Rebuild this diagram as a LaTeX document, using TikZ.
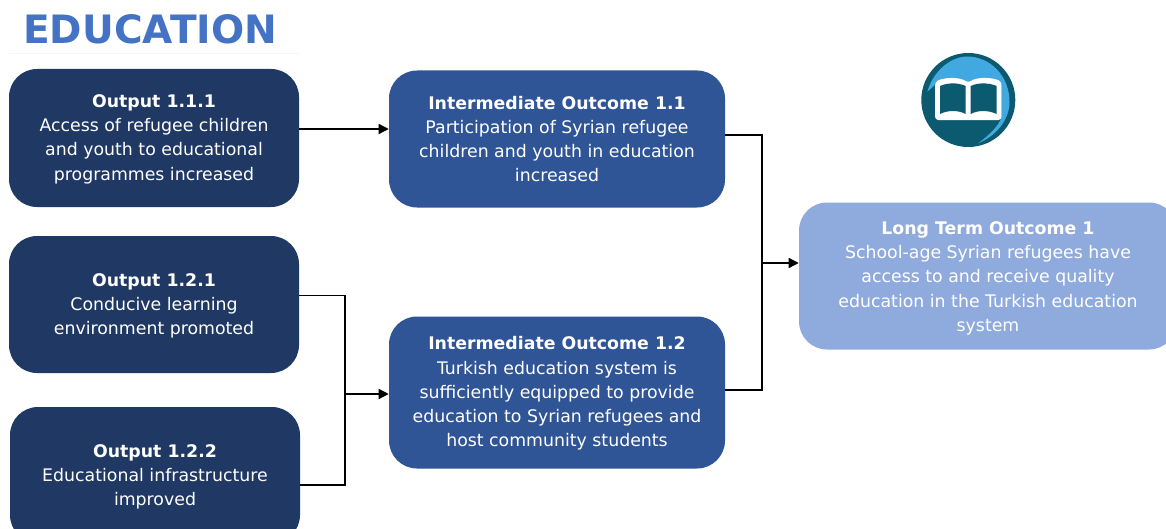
\documentclass[tikz,border=0pt]{standalone}
\usepackage{fontspec}
\setmainfont{DejaVu Sans}
\usetikzlibrary{arrows.meta}
\definecolor{navy}{HTML}{1F3864}
\definecolor{midblue}{HTML}{2F5597}
\definecolor{lightblue}{HTML}{8FAADC}
\definecolor{titleblue}{HTML}{4472C4}
\definecolor{iconteal}{HTML}{0B5A70}
\definecolor{iconsky}{HTML}{41A8E0}
\newcommand{\toplift}[1]{\rule{0pt}{#1}}
\tikzset{
  box/.style={rounded corners=21pt,inner sep=0pt,align=center,text=white,
    font=\fontsize{13pt}{18.2pt}\selectfont},
  outbox/.style={box,fill=navy,minimum width=217.5pt},
  midbox/.style={box,fill=midblue,minimum width=252pt},
  longbox/.style={box,fill=lightblue,minimum width=283.5pt,minimum height=110.25pt},
  link/.style={draw=black,line width=1pt},
  linkarrow/.style={link,-{Triangle[length=7.5pt,width=7.5pt]}},
}
\begin{document}
\begin{tikzpicture}[x=0.75pt,y=-0.75pt]
\useasboundingbox (0,0) rectangle (1166,528);
\clip (0,0) rectangle (1166,528);
\fill[white] (0,0) rectangle (1166,528);
\node[anchor=base west,text=titleblue,inner sep=0pt,font=\fontsize{29.3pt}{30pt}\selectfont\bfseries] (title) at (23,44) {EDUCATION};
\draw[draw=black!4,line width=0.5pt] (9,53) -- (299,53);

\node[outbox,minimum height=103.5pt] (o111) at (154,138) {\toplift{11.5pt}\textbf{Output 1.1.1}\\Access of refugee children\\and youth to educational\\programmes increased};
\node[outbox,minimum height=102.75pt] (o121) at (154,304.5) {\toplift{11.5pt}\textbf{Output 1.2.1}\\Conducive learning\\environment promoted};
\node[outbox,minimum height=102pt] (o122) at (155,475) {\toplift{12.5pt}\textbf{Output 1.2.2}\\Educational infrastructure\\improved};
\node[midbox,minimum height=102.75pt] (i11) at (557,139) {\textbf{Intermediate Outcome 1.1}\\Participation of Syrian refugee\\children and youth in education\\increased};
\node[midbox,minimum height=114pt] (i12) at (557,392.5) {\toplift{11.5pt}\textbf{Intermediate Outcome 1.2}\\Turkish education system is\\sufficiently equipped to provide\\education to Syrian refugees and\\host community students};
\node[longbox] (lt) at (988,276) {\toplift{13pt}\textbf{Long Term Outcome 1}\\School-age Syrian refugees have\\access to and receive quality\\education in the Turkish education\\system};

\coordinate (j1) at (345,394);
\coordinate (j2) at (762,263);
\draw[linkarrow] ([yshift=6.75pt]o111.east) -- ([yshift=7.5pt]i11.west);
\draw[link] ([yshift=7pt]o121.east) -| (j1) |- ([yshift=-7.5pt]o122.east);
\draw[linkarrow] (j1) -- (j1 -| i12.west);
\draw[link] ([yshift=3pt]i11.east) -| (j2) |- ([yshift=2pt]i12.east);
\draw[linkarrow] (j2) -- (j2 -| lt.west);

% icon
\fill[iconteal] (968.3,100) circle[radius=47];
\fill[iconsky] (927.3,91.7) .. controls (933,72) and (949,57.5) .. (966,56.5)
  .. controls (990,56) and (1010,76) .. (1009.5,103)
  .. controls (1009,120) and (996,136) .. (978.3,143.3)
  .. controls (990,134) and (999,126) .. (1002,116)
  -- (1002,84) -- (936,84) -- cycle;
\fill[white,rounded corners=2.5pt] (935,82) .. controls (945,77) and (960,77) .. (968.3,83)
  .. controls (976,77) and (992,77) .. (1001.7,82) -- (1001.7,120) -- (935,120) -- cycle;
\fill[iconteal] (940,86) .. controls (948,82.5) and (958,82.5) .. (965.7,86)
  -- (965.7,114) .. controls (958,110) and (948,110) .. (940,114) -- cycle;
\fill[iconteal] (970.7,86) .. controls (978,82.5) and (988,82.5) .. (996.7,86)
  -- (996.7,114) .. controls (988,110) and (978,110) .. (970.7,114) -- cycle;
\end{tikzpicture}
\end{document}
